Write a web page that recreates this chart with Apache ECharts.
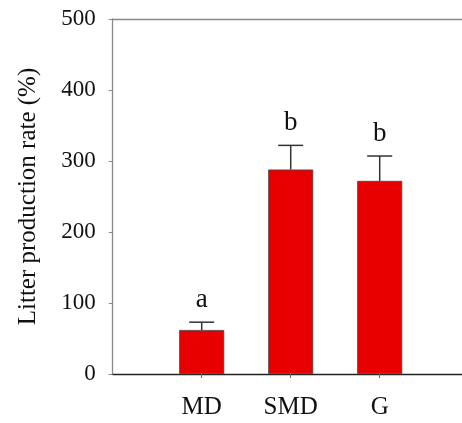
<!DOCTYPE html>
<html>
<head>
<meta charset="utf-8">
<script src="https://cdn.jsdelivr.net/npm/echarts@6/dist/echarts.min.js"></script>
<style>
    html, body { margin: 0; padding: 0; background: #fff; }
    #main { width: 462px; height: 423px; }
</style>
</head>
<body>
<div id="main"></div>
<script>
    // padded with blank slots so the bars sit at 1, 2, 3 like the original plot
    var categories = ['', 'MD', 'SMD', 'G', ''];
    var values = [null, 62, 288, 272, null];
    var errors = [null, 11, 34, 35, null];
    var letters = ['', 'a', 'b', 'b', ''];
    var yTicks = [0, 100, 200, 300, 400, 500];

    var font = '"Liberation Serif", "Times New Roman", serif';

    var errData = [];
    for (var i = 0; i < categories.length; i++) {
        if (values[i] != null) {
            errData.push([i, values[i], values[i] + errors[i], letters[i]]);
        }
    }

    var myChart = echarts.init(document.getElementById('main'));
    myChart.setOption({
        animation: false,
        grid: {
            left: 112.7,
            right: -6.7,
            top: 19,
            bottom: 49,
            outerBoundsMode: 'none'
        },
        xAxis: [
            {
                type: 'category',
                data: categories,
                boundaryGap: false,
                axisLine: { lineStyle: { color: '#222', width: 1.3 } },
                axisTick: {
                    length: 4,
                    interval: function (idx, val) { return val !== ''; },
                    lineStyle: { color: '#666' }
                },
                axisLabel: {
                    interval: 0,
                    margin: 21,
                    color: '#111',
                    fontFamily: font,
                    fontSize: 25
                },
                splitLine: { show: false }
            },
            {
                type: 'category',
                position: 'top',
                data: categories,
                boundaryGap: false,
                axisLine: { lineStyle: { color: '#888', width: 1.3 } },
                axisTick: { show: false },
                axisLabel: { show: false }
            }
        ],
        yAxis: {
            type: 'value',
            min: 0,
            max: 500,
            interval: 100,
            name: 'Litter production rate (%)',
            nameLocation: 'middle',
            nameGap: 72,
            nameTextStyle: { color: '#111', fontFamily: font, fontSize: 25 },
            axisLine: { show: true, lineStyle: { color: '#888', width: 1.3 } },
            axisTick: { show: true, length: 4, lineStyle: { color: '#888' } },
            axisLabel: {
                margin: 17,
                color: '#111',
                fontFamily: font,
                fontSize: 23,
                formatter: function (v) { return yTicks.indexOf(v) >= 0 ? String(v) : ''; }
            },
            splitLine: { show: false }
        },
        series: [
            {
                type: 'bar',
                data: values,
                barWidth: 45,
                itemStyle: { color: '#e80000', borderColor: '#444', borderWidth: 0.8 },
                z: 2
            },
            {
                type: 'custom',
                data: errData,
                z: 3,
                renderItem: function (params, api) {
                    var x = api.value(0);
                    var top = api.coord([x, api.value(2)]);
                    var base = api.coord([x, api.value(1)]);
                    var half = 12.5;
                    var st = { stroke: '#333', lineWidth: 1.5 };
                    return {
                        type: 'group',
                        children: [
                            { type: 'line', shape: { x1: top[0], y1: base[1], x2: top[0], y2: top[1] }, style: st },
                            { type: 'line', shape: { x1: top[0] - half, y1: top[1], x2: top[0] + half, y2: top[1] }, style: st },
                            {
                                type: 'text',
                                style: {
                                    x: top[0],
                                    y: top[1] - 9,
                                    text: api.value(3),
                                    textAlign: 'center',
                                    textVerticalAlign: 'bottom',
                                    fill: '#111',
                                    font: '27px ' + font
                                }
                            }
                        ]
                    };
                }
            }
        ]
    });
</script>
</body>
</html>
